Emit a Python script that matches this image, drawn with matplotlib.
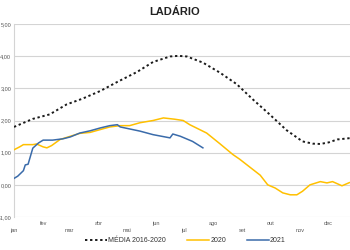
import matplotlib
matplotlib.use("Agg")
import matplotlib.pyplot as plt

plt.rcParams["font.family"] = ["Liberation Sans", "DejaVu Sans"]

# day of year -> level (m)
media_days = [0, 20, 38, 56, 73, 92, 110, 131, 148, 166, 175, 184, 201, 219,
              237, 254, 272, 290, 307, 318, 326, 335, 344, 357, 365]
media_vals = [1.80, 2.05, 2.19, 2.50, 2.68, 2.92, 3.20, 3.51, 3.82, 3.99, 4.01,
              3.99, 3.80, 3.49, 3.13, 2.66, 2.19, 1.70, 1.35, 1.28, 1.27, 1.32,
              1.41, 1.45, 1.47]

y2020_days = [0, 6, 10, 20, 24, 31, 35, 40, 49, 60, 70, 81, 92, 102, 113, 123,
              134, 148, 159, 171, 180, 187, 205, 219, 233, 240, 251, 262, 270,
              278, 286, 294, 301, 307, 315, 326, 333, 339, 349, 357, 365]
y2020_vals = [1.09, 1.18, 1.25, 1.25, 1.27, 1.18, 1.15, 1.22, 1.41, 1.51, 1.60,
              1.63, 1.72, 1.80, 1.84, 1.84, 1.93, 2.00, 2.08, 2.04, 2.00, 1.87,
              1.61, 1.28, 0.94, 0.80, 0.55, 0.30, 0.00, -0.10, -0.25, -0.31,
              -0.31, -0.20, 0.00, 0.10, 0.06, 0.10, -0.03, 0.07, 0.12]

y2021_days = [0, 4, 10, 12, 15, 18, 20, 26, 31, 41, 52, 60, 70, 81, 92, 102,
              110, 113, 134, 148, 166, 169, 177, 190, 201]
y2021_vals = [0.20, 0.27, 0.44, 0.62, 0.64, 0.94, 1.14, 1.30, 1.39, 1.39, 1.43,
              1.49, 1.61, 1.68, 1.77, 1.84, 1.87, 1.80, 1.67, 1.56, 1.46, 1.58,
              1.51, 1.35, 1.15]

month_starts = [0, 31, 59, 90, 120, 151, 181, 212, 243, 273, 304, 334]
month_labels = ["jan", "fev", "mar", "abr", "mai", "jun",
                "jul", "ago", "set", "out", "nov", "dec"]
y_ticks = [-1, 0, 1, 2, 3, 4, 5]

fig = plt.figure(figsize=(3.5, 2.5), dpi=100)
ax = fig.add_axes([0.04, 0.132, 0.98, 0.772])

ax.plot(media_days, media_vals, color="#1a1a1a", lw=1.4,
        linestyle=(0, (1.2, 1.4)), label="MÉDIA 2016-2020", zorder=3)
ax.plot(y2020_days, y2020_vals, color="#FFC000", lw=1.1, label="2020", zorder=4)
ax.plot(y2021_days, y2021_vals, color="#3A6BAA", lw=1.1, label="2021", zorder=5)

ax.set_xlim(0, 365)
ax.set_ylim(-1, 5)
ax.set_yticks(y_ticks)
ax.set_yticklabels([f"{v:.2f}".replace(".", ",") for v in y_ticks])
ax.grid(axis="y", color="#d4d4d4", lw=0.8)
ax.set_axisbelow(True)

# staggered month labels
ax.set_xticks(month_starts[0::2])
ax.set_xticklabels(month_labels[0::2])
ax.set_xticks(month_starts[1::2], minor=True)
ax.set_xticklabels(month_labels[1::2], minor=True)
ax.tick_params(axis="x", which="major", length=0, pad=8, labelsize=4, labelcolor="#555555")
ax.tick_params(axis="x", which="minor", length=0, pad=3, labelsize=4, labelcolor="#555555")
ax.tick_params(axis="y", length=0, pad=2, labelsize=4, labelcolor="#555555")

for s in ["top", "right", "bottom"]:
    ax.spines[s].set_visible(False)
ax.spines["left"].set_color("#d4d4d4")
ax.spines["left"].set_linewidth(0.8)

fig.text(0.5, 0.952, "LADÁRIO", ha="center", va="center",
         fontsize=8, fontweight="bold", color="#222222")

fig.legend(loc="center", bbox_to_anchor=(0.53, 0.036), ncol=3, frameon=False,
           fontsize=5, handlelength=3.2, columnspacing=3, handletextpad=0.15,
           labelcolor="#333333")

fig.savefig("out.png", dpi=100)
